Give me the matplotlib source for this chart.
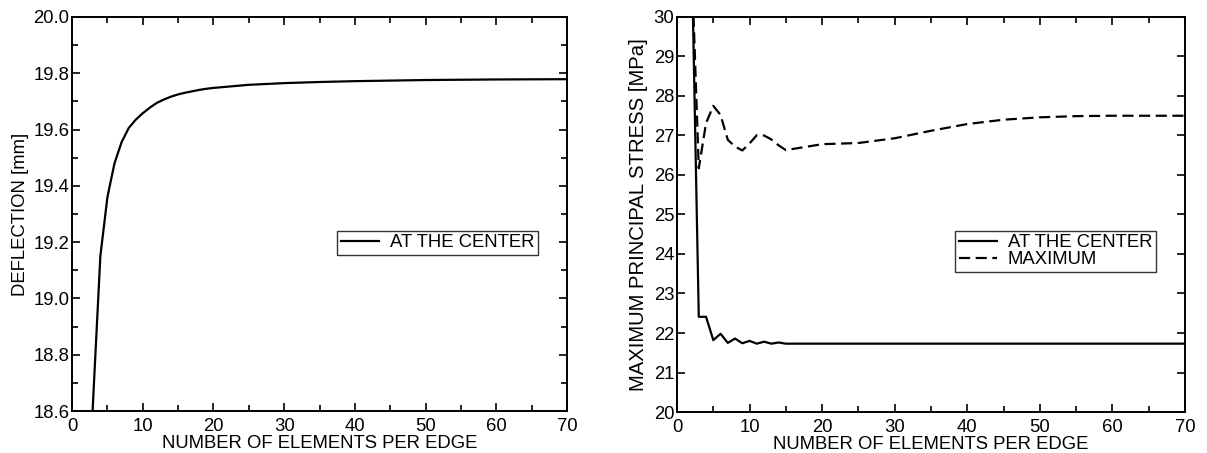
import numpy as np
import matplotlib
matplotlib.use('Agg')
import matplotlib.pyplot as plt
from matplotlib.ticker import MultipleLocator, FormatStrFormatter

plt.rcParams['font.family'] = ['Liberation Sans', 'DejaVu Sans']

# Deflection at the plate centre vs mesh density
defl_n = [2, 3, 4, 5, 6, 7, 8, 9, 10, 11, 12, 13, 14, 15, 16, 17, 18, 19, 20,
          25, 30, 35, 40, 50, 60, 70]
defl_center = [18.10, 18.65, 19.15, 19.36, 19.48, 19.555, 19.605, 19.635,
               19.658, 19.678, 19.695, 19.707, 19.717, 19.725, 19.731, 19.736,
               19.741, 19.745, 19.748, 19.759, 19.765, 19.769, 19.772, 19.776,
               19.778, 19.779]

# Maximum principal stress vs mesh density
stress_n = [2, 3, 4, 5, 6, 7, 8, 9, 10, 11, 12, 13, 14, 15, 16, 20, 25, 30,
            35, 40, 45, 50, 55, 60, 65, 70]
stress_center = [31.9, 22.41, 22.41, 21.82, 21.98, 21.75, 21.86, 21.74, 21.80,
                 21.73, 21.78, 21.73, 21.76, 21.73, 21.73, 21.73, 21.73, 21.73,
                 21.73, 21.73, 21.73, 21.73, 21.73, 21.73, 21.73, 21.73]
stress_max = [31.5, 26.17, 27.31, 27.75, 27.52, 26.89, 26.72, 26.62, 26.80,
              27.01, 27.00, 26.90, 26.75, 26.63, 26.66, 26.78, 26.81, 26.93,
              27.12, 27.29, 27.40, 27.46, 27.49, 27.50, 27.50, 27.50]

FS = 13.3
LW = 1.6

fig = plt.figure(figsize=(12.07, 4.53), dpi=100)
ax1 = fig.add_axes([0.0597, 0.0927, 0.4101, 0.8698])
ax2 = fig.add_axes([0.5609, 0.0905, 0.4209, 0.872])


def style_axes(ax):
    for sp in ax.spines.values():
        sp.set_linewidth(1.4)
    ax.tick_params(which='both', direction='in', top=True, right=True,
                   labelsize=FS, width=1.2, pad=2)
    ax.tick_params(axis='x', which='both', pad=5)
    ax.tick_params(which='major', length=6)
    ax.tick_params(which='minor', length=4)
    ax.set_xlim(0, 70)
    ax.xaxis.set_major_locator(MultipleLocator(10))
    ax.xaxis.set_minor_locator(MultipleLocator(5))
    ax.set_xlabel('NUMBER OF ELEMENTS PER EDGE', fontsize=FS, labelpad=0)


def style_legend(leg):
    leg.get_frame().set_edgecolor('black')
    leg.get_frame().set_linewidth(1.0)


# Left: deflection
ax1.plot(defl_n, defl_center, color='black', linewidth=LW, label='AT THE CENTER')
style_axes(ax1)
ax1.set_ylim(18.6, 20.0)
ax1.yaxis.set_major_locator(MultipleLocator(0.2))
ax1.yaxis.set_minor_locator(MultipleLocator(0.1))
ax1.yaxis.set_major_formatter(FormatStrFormatter('%.1f'))
ax1.set_ylabel('DEFLECTION [mm]', fontsize=FS, labelpad=3)
leg1 = ax1.legend(loc='upper left', bbox_to_anchor=(0.535, 0.458), fontsize=FS,
                  frameon=True, fancybox=False, borderpad=0.2, borderaxespad=0,
                  handlelength=2.1, handletextpad=0.55, labelspacing=0.1)
style_legend(leg1)

# Right: stress
ax2.plot(stress_n, stress_center, color='black', linewidth=LW, label='AT THE CENTER')
ax2.plot(stress_n, stress_max, color='black', linewidth=LW, linestyle=(0, (5, 2.5)),
         label='MAXIMUM')
style_axes(ax2)
ax2.set_ylim(20, 30)
ax2.yaxis.set_major_locator(MultipleLocator(1))
ax2.set_ylabel('MAXIMUM PRINCIPAL STRESS [MPa]', fontsize=14.6, labelpad=4)
leg2 = ax2.legend(loc='upper left', bbox_to_anchor=(0.547, 0.459), fontsize=FS,
                  frameon=True, fancybox=False, borderpad=0.2, borderaxespad=0,
                  handlelength=2.1, handletextpad=0.55, labelspacing=0.0)
style_legend(leg2)

fig.savefig('out.png', dpi=100)
